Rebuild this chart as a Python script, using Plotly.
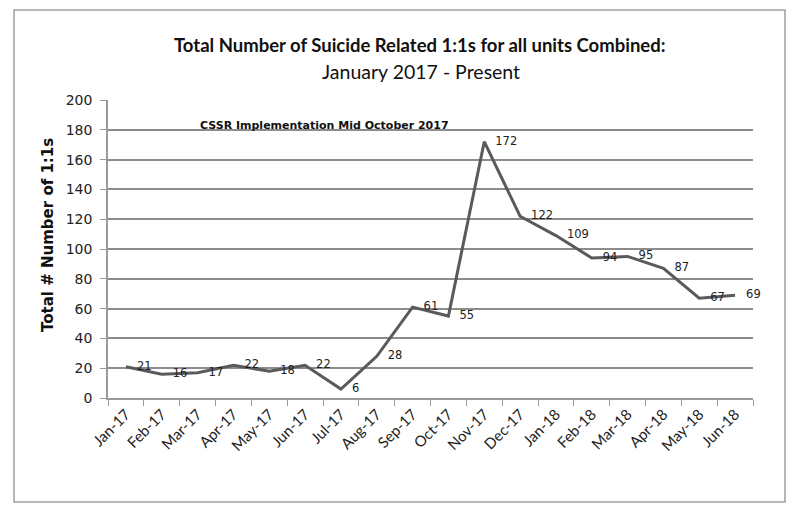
import plotly.graph_objects as go

months = ["Jan-17", "Feb-17", "Mar-17", "Apr-17", "May-17", "Jun-17", "Jul-17", "Aug-17", "Sep-17",
          "Oct-17", "Nov-17", "Dec-17", "Jan-18", "Feb-18", "Mar-18", "Apr-18", "May-18", "Jun-18"]
counts = [21, 16, 17, 22, 18, 22, 6, 28, 61, 55, 172, 122, 109, 94, 95, 87, 67, 69]
y_ticks = list(range(0, 201, 20))

TITLE_FONT = "Lato, Liberation Sans, sans-serif"
NUM_FONT = "DejaVu Sans, Verdana, sans-serif"


def px_x(px):
    return (px - 108) / 645


def px_y(py):
    return (398 - py) / 298


fig = go.Figure()
fig.add_trace(go.Scatter(
    x=months, y=counts, mode="lines+markers+text",
    line=dict(color="#5a5a5a", width=3),
    marker=dict(size=16, color="rgba(0,0,0,0)"),
    text=[str(v) for v in counts], textposition="middle right",
    textfont=dict(family=NUM_FONT, size=11.5, color="#222222"),
    cliponaxis=False, showlegend=False, hoverinfo="x+y",
))

fig.update_layout(
    width=784, height=506,
    margin=dict(l=100, r=39, t=92, b=116),
    paper_bgcolor="white", plot_bgcolor="white",
    xaxis=dict(
        type="category", showgrid=False, showline=True, linecolor="#9a9a9a", linewidth=1.5,
        ticks="outside", ticklen=6, tickcolor="#9a9a9a", tickson="boundaries",
        tickangle=-45, tickfont=dict(family=TITLE_FONT, size=15, color="#222222"),
        range=[-0.5, len(months) - 0.5],
    ),
    yaxis=dict(
        range=[0, 200], tickvals=y_ticks, showgrid=True, gridcolor="#8c8c8c", gridwidth=1.5,
        showline=True, linecolor="#9a9a9a", linewidth=1.5, ticks="outside", ticklen=6,
        tickcolor="#9a9a9a", zeroline=False, ticklabelstandoff=5,
        tickfont=dict(family=NUM_FONT, size=14, color="#222222"),
    ),
    shapes=[dict(type="rect", xref="paper", yref="paper",
                 x0=-0.1457, x1=1.0496, y0=-0.349, y1=1.302,
                 line=dict(color="#a0a0a0", width=1.5))],
    annotations=[
        dict(text="<b>Total Number of Suicide Related 1:1s for all units Combined:</b>",
             xref="paper", yref="paper", x=px_x(420), y=px_y(45),
             xanchor="center", yanchor="middle",
             showarrow=False, font=dict(family=TITLE_FONT, size=18.5, color="#111111")),
        dict(text="January 2017 - Present",
             xref="paper", yref="paper", x=px_x(421), y=px_y(71),
             xanchor="center", yanchor="middle",
             showarrow=False, font=dict(family=TITLE_FONT, size=19.5, color="#111111")),
        dict(text="<b>CSSR Implementation Mid October 2017</b>",
             xref="paper", yref="paper", x=px_x(324), y=px_y(125),
             xanchor="center", yanchor="middle",
             showarrow=False, font=dict(family=NUM_FONT, size=11, color="#111111")),
        dict(text="<b>Total # Number of 1:1s</b>",
             xref="paper", yref="paper", x=px_x(48), y=px_y(235),
             xanchor="center", yanchor="middle", textangle=-90,
             showarrow=False, font=dict(family=NUM_FONT, size=15, color="#111111")),
    ],
)

fig.write_html("out.html")
